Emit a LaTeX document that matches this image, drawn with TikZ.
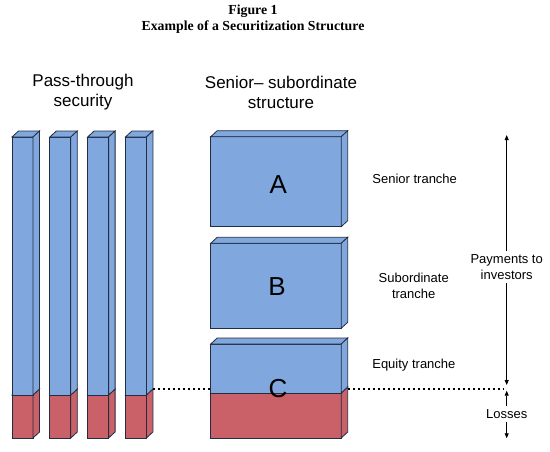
\documentclass[tikz,border=0pt]{standalone}
\usepackage{fontspec}
\setmainfont{Liberation Serif}
\setsansfont{Liberation Sans}
\usetikzlibrary{arrows.meta}

\definecolor{trblue}{RGB}{128,168,222}
\definecolor{trred}{RGB}{202,96,104}
\definecolor{edgecol}{RGB}{35,45,65}

% cuboid: x, top, bottom, width, fill (depth \dx, \dy)
\newcommand{\cuboid}[5]{%
  \filldraw[fill=#5,draw=edgecol] (#1,#2) rectangle ({#1+#4},#3);
  \filldraw[fill=#5,draw=edgecol] (#1,#2) -- ({#1+\dx},{#2-\dy})
    -- ({#1+#4+\dx},{#2-\dy}) -- ({#1+#4},#2) -- cycle;
  \filldraw[fill=#5,draw=edgecol] ({#1+#4},#2) -- ({#1+#4+\dx},{#2-\dy})
    -- ({#1+#4+\dx},{#3-\dy}) -- ({#1+#4},#3) -- cycle;
}

\begin{document}
\begin{tikzpicture}[x=1pt,y=-1pt,font=\sffamily,line width=0.8pt,
  tip/.style={-{Triangle[length=5pt,width=4pt]}},
  lbl/.style={align=center,font=\sffamily\fontsize{13}{16}\selectfont},
  head/.style={align=center,font=\sffamily\fontsize{17}{20}\selectfont},
  letter/.style={font=\sffamily\fontsize{26}{28}\selectfont}]
  \useasboundingbox (0,0) rectangle (550,451);
  % --- sizes (px): change to taste
  \def\dx{6.5}   % depth, right
  \def\dy{6}     % depth, up
  \def\bw{21}    % bar width
  \def\bot{438}  % common bottom
  \def\xl{210.7} % tranche boxes, left
  \def\tw{130.5} % tranche boxes, width

  %---------------------------------------
  % titles
  \node[align=center,font=\bfseries\fontsize{13.8}{16}\selectfont] (title) at (253,19)
    {Figure 1\\Example of a Securitization Structure};
  \node[head] (pass) at (83,92) {Pass-through\\security};
  \node[head] (senior) at (281,92) {Senior-- subordinate\\structure};

  %---------------------------------------
  % pass-through bars
  \foreach \i in {0,...,3}{
    \pgfmathsetmacro{\bx}{12+37.8*\i}
    \cuboid{\bx}{395}{\bot}{\bw}{trred}
    \cuboid{\bx}{137}{395}{\bw}{trblue}
  }
  \coordinate (lossline) at ({12+37.8*3+\bw+\dx},389);
  \coordinate (cut) at (503,389);
  \draw[line width=1.8pt,dash pattern=on 2.5pt off 2.5pt] (lossline) -- (cut);

  %---------------------------------------
  % tranches A, B, C
  \cuboid{\xl}{136.7}{226.7}{\tw}{trblue}
  \cuboid{\xl}{243.3}{328.3}{\tw}{trblue}
  \cuboid{\xl}{393}{\bot}{\tw}{trred}
  \cuboid{\xl}{344}{393}{\tw}{trblue}
  \node[letter] (A) at (278.3,185) {A};
  \node[letter] (B) at (277,287) {B};
  \node[letter] (C) at (278,389) {C};

  % tranche labels
  \node[lbl] (sen) at (414.7,179) {Senior tranche};
  \node[lbl] (sub) at (413.7,285.5) {Subordinate\\tranche};
  \node[lbl] (eq) at (413.9,365) {Equity tranche};

  %---------------------------------------
  % payments and losses
  \coordinate (paytop) at (506.7,135);
  \coordinate (paybot) at (506.7,385);
  \coordinate (losstop) at (506.7,390.7);
  \coordinate (lossbot) at (506.7,438.3);
  \node[lbl] (pay) at (506.7,267) {Payments to\\investors};
  \node[lbl] (loss) at (506.7,414) {Losses};
  \draw[tip] (pay) -- (paytop);
  \draw[tip] (pay) -- (paybot);
  \draw[tip] (loss) -- (losstop);
  \draw[tip] (loss) -- (lossbot);
\end{tikzpicture}
\end{document}
